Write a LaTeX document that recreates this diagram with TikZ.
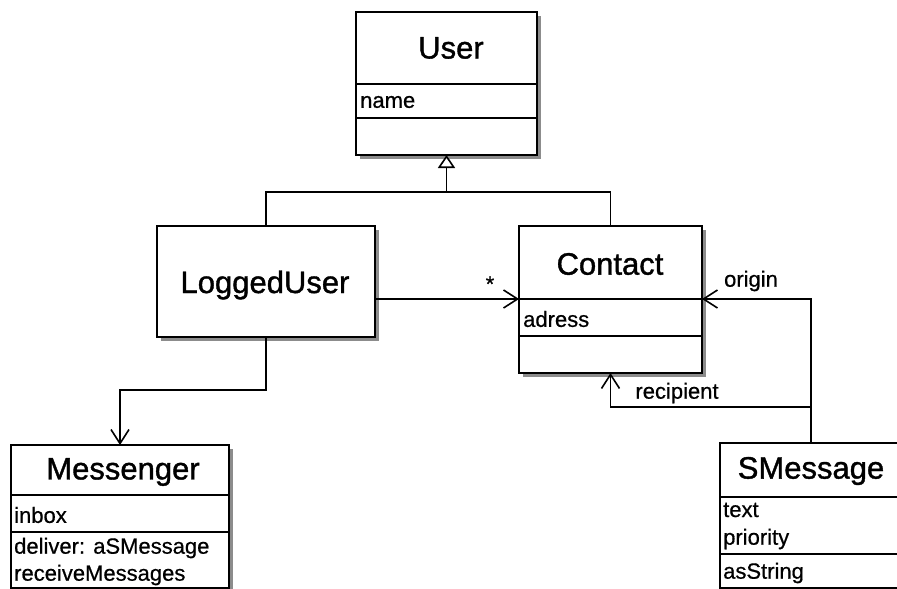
\documentclass[tikz,border=0pt]{standalone}
\usepackage{fontspec}
\setmainfont{Liberation Sans}
\newfontfamily\heavyfont{Liberation Sans}[FakeBold=1.2]
\newfontfamily\mediumfont{Liberation Sans}[FakeBold=0.6]
\usetikzlibrary{arrows.meta,shadows,calc}

\tikzset{
  cls/.style={draw, line width=1.6pt, fill=white, anchor=north west, inner sep=0pt, outer sep=0pt,
    general shadow={fill=black!45, shadow xshift=4pt, shadow yshift=-4pt}},
  divider/.style={line width=1.6pt},
  titletext/.style={font=\heavyfont\fontsize{31}{36}\selectfont, inner sep=0pt},
  membertext/.style={font=\mediumfont\fontsize{22}{26}\selectfont, anchor=west, inner sep=0pt},
  rolelabel/.style={font=\mediumfont\fontsize{22}{26}\selectfont, inner sep=0pt},
  conn/.style={line width=1.6pt},
  assoc/.style={conn, -{Straight Barb[length=14pt, width=18pt, line width=1.6pt]}},
  generalize/.style={conn, -{Triangle[open, length=13pt, width=17pt, fill=white, line width=1.6pt]}}
}

\begin{document}
\begin{tikzpicture}[x=1pt, y=1pt]
  \useasboundingbox (0,0) rectangle (897,-589);
  \clip (0,0) rectangle (897,-589);

  % ----- User -----
  \node[cls, minimum width=181pt, minimum height=143pt] (user) at (356,-12) {};
  \draw[divider] ([yshift=-72pt]user.north west) -- ([yshift=-72pt]user.north east);
  \draw[divider] ([yshift=-106pt]user.north west) -- ([yshift=-106pt]user.north east);
  \node[titletext] (usertitle) at (451,-48) {User};
  \node[membertext] (username) at (360,-102) {name};

  % ----- LoggedUser -----
  \node[cls, minimum width=218pt, minimum height=111pt] (lu) at (157,-226) {};
  \node[titletext] (lutitle) at (265,-285) {LoggedUser};

  % ----- Contact -----
  \node[cls, minimum width=183pt, minimum height=147pt] (ct) at (519,-226) {};
  \coordinate (ctdiv) at (610,-299);
  \draw[divider] (ct.west |- ctdiv) -- (ct.east |- ctdiv);
  \draw[divider] ([yshift=-110pt]ct.north west) -- ([yshift=-110pt]ct.north east);
  \node[titletext] (cttitle) at (610,-264) {Contact};
  \node[membertext] (ctaddr) at (523,-319) {adress};

  % ----- Messenger -----
  \node[cls, minimum width=218pt, minimum height=143pt] (msg) at (11,-445) {};
  \draw[divider] ([yshift=-50pt]msg.north west) -- ([yshift=-50pt]msg.north east);
  \draw[divider] ([yshift=-87pt]msg.north west) -- ([yshift=-87pt]msg.north east);
  \node[titletext] (msgtitle) at (123,-472) {Messenger};
  \node[membertext] (msginbox) at (14,-515) {inbox};
  \node[membertext] (msgdeliver) at (14,-548) {deliver: aSMessage};
  \node[membertext] (msgreceive) at (14,-575) {receiveMessages};

  % ----- SMessage -----
  \node[cls, minimum width=182pt, minimum height=145pt] (sm) at (720,-443) {};
  \draw[divider] ([yshift=-54pt]sm.north west) -- ([yshift=-54pt]sm.north east);
  \draw[divider] ([yshift=-111pt]sm.north west) -- ([yshift=-111pt]sm.north east);
  \node[titletext] (smtitle) at (811,-471) {SMessage};
  \node[membertext] (smtext) at (723,-510) {text};
  \node[membertext] (smprio) at (723,-539) {priority};
  \node[membertext] (smstr) at (723,-573) {asString};

  % ----- generalization -----
  \coordinate (jn) at (446.5,-192);
  \draw[conn] (lu.north) |- (jn) -| (ct.north);
  \draw[generalize] (jn) -- (user.south);

  % ----- associations -----
  \draw[assoc] (lu.east |- ctdiv) -- (ct.west |- ctdiv);
  \node[rolelabel] (many) at (490,-284) {*};

  \coordinate (mb) at (msg.north |- 0,-390);
  \draw[assoc] (lu.south) |- (mb) -- (msg.north);

  \draw[assoc] (sm.north) |- (ct.east |- ctdiv);
  \node[rolelabel] (origin) at (751,-281) {origin};

  \coordinate (rj) at (sm.north |- 0,-407);
  \draw[assoc] (rj) -| (ct.south);
  \node[rolelabel] (recipient) at (677,-393) {recipient};
\end{tikzpicture}
\end{document}
